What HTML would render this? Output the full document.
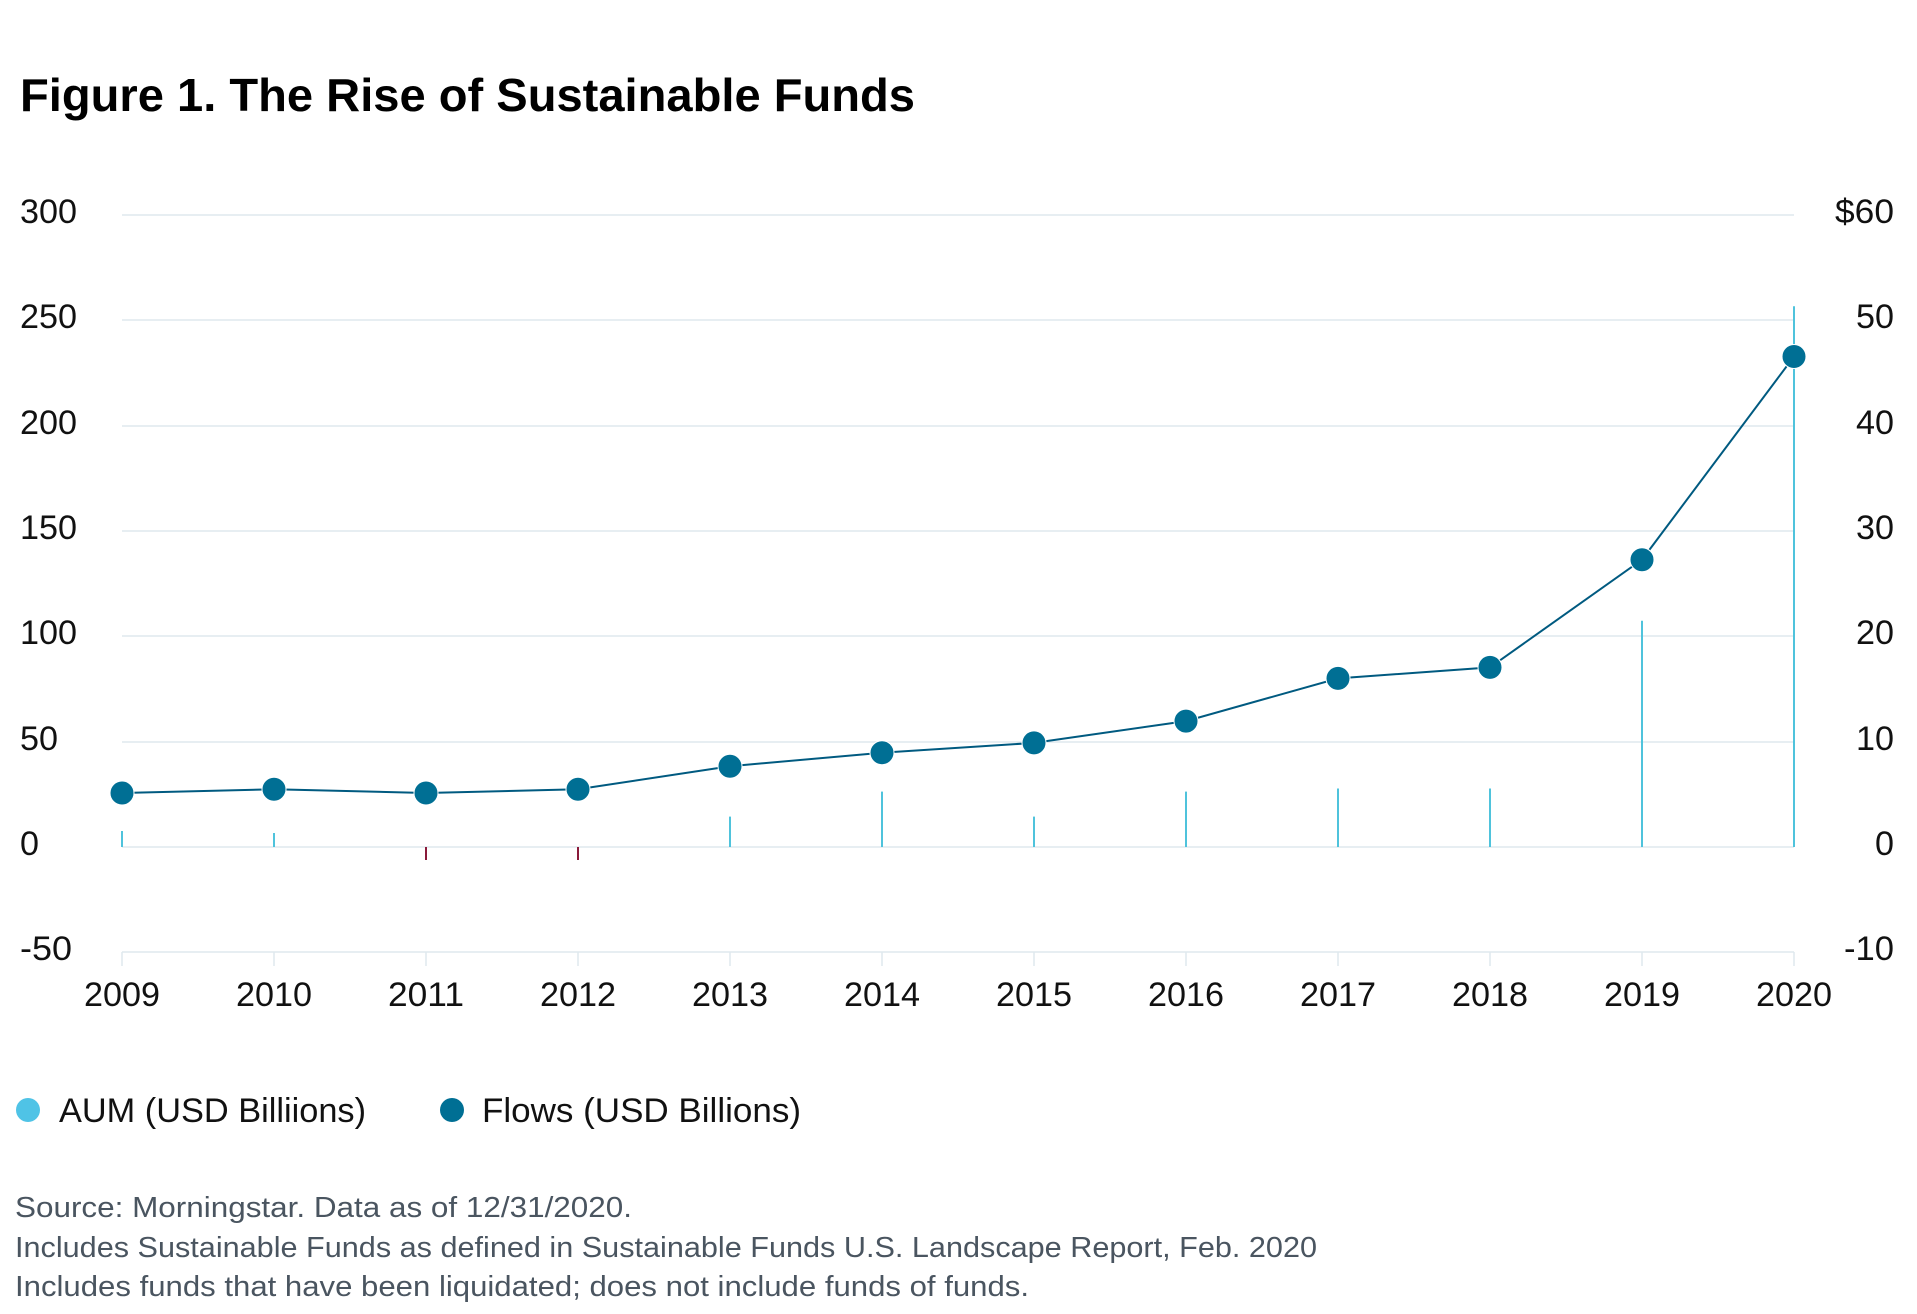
<!DOCTYPE html>
<html><head><meta charset="utf-8"><style>html,body{margin:0;padding:0;background:#fff}svg{display:block}text{font-family:"Liberation Sans",sans-serif}</style></head>
<body>
<svg width="1917" height="1314" viewBox="0 0 1917 1314" xmlns="http://www.w3.org/2000/svg">
<text x="20" y="111" font-size="46" font-weight="bold" fill="#000" textLength="895" lengthAdjust="spacingAndGlyphs">Figure 1. The Rise of Sustainable Funds</text>
<g stroke="#dfe9ee" stroke-width="1.5">
<line x1="122" x2="1794" y1="215" y2="215"/>
<line x1="122" x2="1794" y1="320" y2="320"/>
<line x1="122" x2="1794" y1="426" y2="426"/>
<line x1="122" x2="1794" y1="531" y2="531"/>
<line x1="122" x2="1794" y1="636" y2="636"/>
<line x1="122" x2="1794" y1="742" y2="742"/>
<line x1="122" x2="1794" y1="847" y2="847"/>
<line x1="122" x2="1794" y1="952" y2="952"/>
</g>
<g stroke="#dfe9ee" stroke-width="1.5">
<line x1="122" x2="122" y1="952" y2="966"/><line x1="274" x2="274" y1="952" y2="966"/><line x1="426" x2="426" y1="952" y2="966"/><line x1="578" x2="578" y1="952" y2="966"/><line x1="730" x2="730" y1="952" y2="966"/><line x1="882" x2="882" y1="952" y2="966"/><line x1="1034" x2="1034" y1="952" y2="966"/><line x1="1186" x2="1186" y1="952" y2="966"/><line x1="1338" x2="1338" y1="952" y2="966"/><line x1="1490" x2="1490" y1="952" y2="966"/><line x1="1642" x2="1642" y1="952" y2="966"/><line x1="1794" x2="1794" y1="952" y2="966"/>
</g>
<g font-size="34" fill="#111">
<text x="20" y="223" textLength="57" lengthAdjust="spacingAndGlyphs">300</text>
<text x="20" y="328" textLength="57" lengthAdjust="spacingAndGlyphs">250</text>
<text x="20" y="434" textLength="57" lengthAdjust="spacingAndGlyphs">200</text>
<text x="20" y="539" textLength="57" lengthAdjust="spacingAndGlyphs">150</text>
<text x="20" y="644" textLength="57" lengthAdjust="spacingAndGlyphs">100</text>
<text x="20" y="750" textLength="38" lengthAdjust="spacingAndGlyphs">50</text>
<text x="20" y="855" textLength="19" lengthAdjust="spacingAndGlyphs">0</text>
<text x="20" y="960" textLength="52" lengthAdjust="spacingAndGlyphs">-50</text>
</g>
<g font-size="34" fill="#111" text-anchor="end">
<text x="1894" y="223" textLength="59" lengthAdjust="spacingAndGlyphs">$60</text>
<text x="1894" y="328" textLength="38" lengthAdjust="spacingAndGlyphs">50</text>
<text x="1894" y="434" textLength="38" lengthAdjust="spacingAndGlyphs">40</text>
<text x="1894" y="539" textLength="38" lengthAdjust="spacingAndGlyphs">30</text>
<text x="1894" y="644" textLength="38" lengthAdjust="spacingAndGlyphs">20</text>
<text x="1894" y="750" textLength="38" lengthAdjust="spacingAndGlyphs">10</text>
<text x="1894" y="855" textLength="19" lengthAdjust="spacingAndGlyphs">0</text>
<text x="1894" y="960" textLength="50" lengthAdjust="spacingAndGlyphs">-10</text>
</g>
<g font-size="34" fill="#111" text-anchor="middle">
<text x="122" y="1006" textLength="76" lengthAdjust="spacingAndGlyphs">2009</text>
<text x="274" y="1006" textLength="76" lengthAdjust="spacingAndGlyphs">2010</text>
<text x="426" y="1006" textLength="76" lengthAdjust="spacingAndGlyphs">2011</text>
<text x="578" y="1006" textLength="76" lengthAdjust="spacingAndGlyphs">2012</text>
<text x="730" y="1006" textLength="76" lengthAdjust="spacingAndGlyphs">2013</text>
<text x="882" y="1006" textLength="76" lengthAdjust="spacingAndGlyphs">2014</text>
<text x="1034" y="1006" textLength="76" lengthAdjust="spacingAndGlyphs">2015</text>
<text x="1186" y="1006" textLength="76" lengthAdjust="spacingAndGlyphs">2016</text>
<text x="1338" y="1006" textLength="76" lengthAdjust="spacingAndGlyphs">2017</text>
<text x="1490" y="1006" textLength="76" lengthAdjust="spacingAndGlyphs">2018</text>
<text x="1642" y="1006" textLength="76" lengthAdjust="spacingAndGlyphs">2019</text>
<text x="1794" y="1006" textLength="76" lengthAdjust="spacingAndGlyphs">2020</text>
</g>
<g stroke="#4fc3dc" stroke-width="2">
<line x1="122" x2="122" y1="847" y2="831"/>
<line x1="274" x2="274" y1="847" y2="833"/>
<line x1="730" x2="730" y1="847" y2="816.6"/>
<line x1="882" x2="882" y1="847" y2="791.6"/>
<line x1="1034" x2="1034" y1="847" y2="816.6"/>
<line x1="1186" x2="1186" y1="847" y2="791.6"/>
<line x1="1338" x2="1338" y1="847" y2="788.5"/>
<line x1="1490" x2="1490" y1="847" y2="788.5"/>
<line x1="1642" x2="1642" y1="847" y2="620.8"/>
<line x1="1794" x2="1794" y1="847" y2="306.3"/>
</g>
<g stroke="#8a1a3a" stroke-width="2">
<line x1="426" x2="426" y1="847" y2="860"/>
<line x1="578" x2="578" y1="847" y2="860"/>
</g>
<polyline fill="none" stroke="#005a80" stroke-width="2" points="122,793 274,789.3 426,793 578,789.3 730,766.2 882,752.7 1034,742.9 1186,721.1 1338,678.4 1490,667.4 1642,559.7 1794,356.5"/>
<g fill="#006f94" stroke="#fff" stroke-width="1">
<circle cx="122" cy="793" r="12"/><circle cx="274" cy="789.3" r="12"/><circle cx="426" cy="793" r="12"/><circle cx="578" cy="789.3" r="12"/><circle cx="730" cy="766.2" r="12"/><circle cx="882" cy="752.7" r="12"/><circle cx="1034" cy="742.9" r="12"/><circle cx="1186" cy="721.1" r="12"/><circle cx="1338" cy="678.4" r="12"/><circle cx="1490" cy="667.4" r="12"/><circle cx="1642" cy="559.7" r="12"/><circle cx="1794" cy="356.5" r="12"/>
</g>
<circle cx="28" cy="1110" r="12" fill="#4fc3e6"/>
<circle cx="452" cy="1110" r="12" fill="#006f94"/>
<g font-size="34" fill="#111">
<text x="59" y="1122" textLength="307" lengthAdjust="spacingAndGlyphs">AUM (USD Billiions)</text>
<text x="482" y="1122" textLength="319" lengthAdjust="spacingAndGlyphs">Flows (USD Billions)</text>
</g>
<g font-size="29" fill="#4a5560">
<text x="15" y="1217" textLength="617" lengthAdjust="spacingAndGlyphs">Source: Morningstar. Data as of 12/31/2020.</text>
<text x="15" y="1257" textLength="1302" lengthAdjust="spacingAndGlyphs">Includes Sustainable Funds as defined in Sustainable Funds U.S. Landscape Report, Feb. 2020</text>
<text x="15" y="1296" textLength="1014" lengthAdjust="spacingAndGlyphs">Includes funds that have been liquidated; does not include funds of funds.</text>
</g>
</svg>
</body></html>
